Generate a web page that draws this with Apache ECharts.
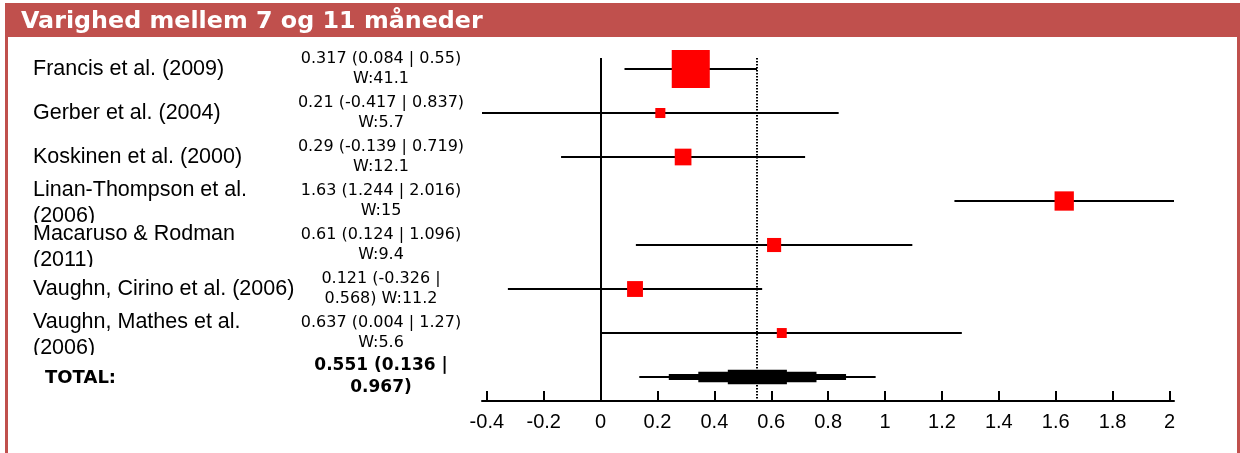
<!DOCTYPE html>
<html><head><meta charset="utf-8">
<script src="https://cdn.jsdelivr.net/npm/echarts@6/dist/echarts.min.js"></script>
<style>html,body{margin:0;padding:0;background:#fff}#c{width:1240px;height:453px}</style>
</head><body><div id="c"></div>
<script>
const chartTitle = 'Varighed mellem 7 og 11 måneder';
const studies = ['Francis et al. (2009)', 'Gerber et al. (2004)', 'Koskinen et al. (2000)', 'Linan-Thompson et al. (2006)', 'Macaruso & Rodman (2011)', 'Vaughn, Cirino et al. (2006)', 'Vaughn, Mathes et al. (2006)'];
const estimates = [0.317, 0.21, 0.29, 1.63, 0.61, 0.121, 0.637];
const lowerCI = [0.084, -0.417, -0.139, 1.244, 0.124, -0.326, 0.004];
const upperCI = [0.55, 0.837, 0.719, 2.016, 1.096, 0.568, 1.27];
const weights = [41.1, 5.7, 12.1, 15, 9.4, 11.2, 5.6];
const totalLabel = 'TOTAL:';
const totalEstimate = 0.551;
const totalLower = 0.136;
const totalUpper = 0.967;
const xTicks = [-0.4, -0.2, 0, 0.2, 0.4, 0.6, 0.8, 1, 1.2, 1.4, 1.6, 1.8, 2];

const RED = '#C0504D';
const NAME_FONT = '21.5px "Liberation Sans"';
const VALUE_FONT = '16px "DejaVu Sans"';
const TOTAL_FONT = 'bold 17px "DejaVu Sans"';

const measureCtx = document.createElement('canvas').getContext('2d');
function wrapText(text, font, maxWidth) {
  measureCtx.font = font;
  const words = text.split(' ');
  const lines = [];
  let cur = '';
  for (const w of words) {
    const t = cur ? cur + ' ' + w : w;
    if (cur && measureCtx.measureText(t).width > maxWidth) { lines.push(cur); cur = w; }
    else cur = t;
  }
  if (cur) lines.push(cur);
  return lines.join('\n');
}

const chart = echarts.init(document.getElementById('c'), null, {renderer: 'canvas'});

const studyData = studies.map((s, i) => [i, estimates[i], lowerCI[i], upperCI[i], weights[i]]);
const totalData = [[studies.length, totalEstimate, totalLower, totalUpper]];

function boxSize(w) { return 3.12 * Math.pow(w, 0.673); }

const option = {
  animation: false,
  title: {
    text: chartTitle, left: 21, top: 9, padding: 0,
    textStyle: {color: '#fff', fontFamily: 'DejaVu Sans', fontWeight: 'bold', fontSize: 23.8, lineHeight: 26}
  },
  graphic: [
    {type: 'rect', z: -10, shape: {x: 5, y: 3, width: 1235, height: 34}, style: {fill: RED}},
    {type: 'rect', z: -10, shape: {x: 5, y: 3, width: 3, height: 450}, style: {fill: RED}},
    {type: 'rect', z: -10, shape: {x: 1237, y: 3, width: 3, height: 450}, style: {fill: RED}}
  ],
  grid: {left: 482, right: 66, top: 58, height: 343},
  xAxis: {
    type: 'value', position: 'bottom',
    min: Math.min(...lowerCI, totalLower),
    max: Math.max(...upperCI, totalUpper),
    axisLine: {show: true, onZero: false, lineStyle: {color: '#000', width: 2}},
    axisTick: {show: true, inside: true, length: 10, lineStyle: {color: '#000', width: 2}, customValues: xTicks},
    axisLabel: {
      customValues: xTicks, margin: 11, color: '#000', fontFamily: 'Liberation Sans', fontSize: 20,
      formatter: v => String(Math.round(v * 10) / 10)
    },
    splitLine: {show: false}
  },
  yAxis: {type: 'value', inverse: true, min: -0.25, max: 7.545, show: false},
  series: [
    {
      type: 'custom', clip: false, data: studyData, z: 3,
      renderItem(params, api) {
        const i = api.value(0), est = api.value(1), lo = api.value(2), hi = api.value(3), w = api.value(4);
        const pE = api.coord([est, i]), pL = api.coord([lo, i]), pH = api.coord([hi, i]);
        const s = boxSize(w);
        const y = pE[1];
        const name = wrapText(studies[params.dataIndex], NAME_FONT, 265);
        const multi = name.indexOf('\n') >= 0;
        return {type: 'group', children: [
          {type: 'line', shape: {x1: pL[0], y1: y, x2: pH[0], y2: y}, style: {stroke: '#000', lineWidth: 2}},
          {type: 'rect', shape: {x: pE[0] - s / 2, y: y - s / 2, width: s, height: s}, style: {fill: '#ff0000'}},
          {type: 'text', clipPath: {type: 'rect', shape: {x: 0, y: y - 22, width: 310, height: 44}},
            style: {x: 33, y: multi ? y + 2 : y, text: name,
              font: NAME_FONT, lineHeight: 26, fill: '#000', align: 'left', verticalAlign: 'middle'}},
          {type: 'text',
            style: {x: 381, y: y, text: wrapText(`${est} (${lo} | ${hi}) W:${w}`, VALUE_FONT, 170),
              font: VALUE_FONT, lineHeight: 20, fill: '#000', align: 'center', verticalAlign: 'middle'}}
        ]};
      }
    },
    {
      type: 'custom', clip: false, data: totalData, z: 3,
      renderItem(params, api) {
        const r = api.value(0), est = api.value(1), lo = api.value(2), hi = api.value(3);
        const y = api.coord([est, r])[1];
        const children = [];
        for (let k = 0; k < 4; k++) {
          const a = api.coord([lo + k / 4 * (est - lo), r])[0];
          const b = api.coord([hi - k / 4 * (hi - est), r])[0];
          const h = 2 + 4.2 * k;
          children.push({type: 'rect', shape: {x: a, y: y - h / 2, width: b - a, height: h}, style: {fill: '#000'}});
        }
        children.push({type: 'text', style: {x: 45, y: y + 1, text: totalLabel, font: 'bold 18px "DejaVu Sans"',
          fill: '#000', align: 'left', verticalAlign: 'middle'}});
        children.push({type: 'text', style: {x: 381, y: y, text: wrapText(`${est} (${lo} | ${hi})`, TOTAL_FONT, 170),
          font: TOTAL_FONT, lineHeight: 22, fill: '#000', align: 'center', verticalAlign: 'middle'}});
        return {type: 'group', children};
      },
      markLine: {
        silent: true, symbol: ['none', 'none'], label: {show: false}, z: 1,
        data: [
          {xAxis: 0, lineStyle: {color: '#000', width: 2, type: 'solid'}},
          {xAxis: totalEstimate, lineStyle: {color: '#000', width: 2, type: [1.5, 1.5]}}
        ]
      }
    }
  ]
};
chart.setOption(option);
</script>
</body></html>
